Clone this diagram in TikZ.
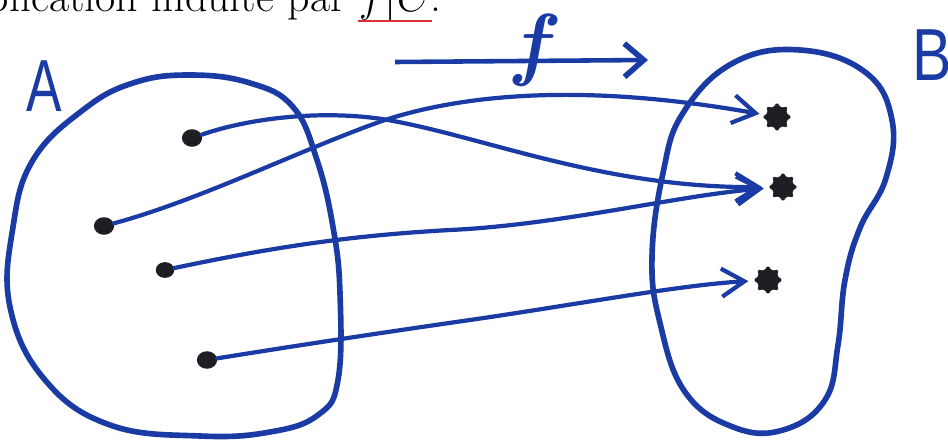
\documentclass[tikz,border=0pt]{standalone}
\usepackage{fontspec}
\usetikzlibrary{arrows.meta,shapes.geometric}
\newfontfamily\handfont{Liberation Sans}
\definecolor{ink}{HTML}{1A3BA3}
\definecolor{dotc}{HTML}{1E1E24}
\definecolor{spell}{HTML}{D9303A}
\begin{document}
\begin{tikzpicture}[x=0.02cm,y=-0.02cm,
  blob/.style={draw=ink,line width=3.2pt,line join=round},
  conn/.style={draw=ink,line width=2.4pt,line cap=round,
    -{Straight Barb[length=13pt,width=16pt,line width=2.4pt]},shorten >=3pt},
  pt/.style={ellipse,fill=dotc,minimum width=11.5pt,minimum height=10pt,inner sep=0pt},
  img/.style={star,star points=8,star point ratio=1.5,fill=dotc,minimum size=17pt,inner sep=0pt,rounded corners=1pt},
  setlabel/.style={text=ink,font=\handfont\fontsize{42}{42}\selectfont,inner sep=0pt}]

\useasboundingbox (0,0) rectangle (948,443);
\fill[white] (0,0) rectangle (948,443);

% cut-off line of text at the top
\begin{scope}
\clip (0,0) rectangle (948,443);
\node[anchor=base east,inner sep=0pt,font=\fontsize{25}{28}\selectfont] (txt) at (442,11)
  {l'application induite par $f|C$.};
\end{scope}
\draw[spell,line width=1.3pt] (358,21) -- (432,21);

% set labels
\node[setlabel] (labA) at (44,86) {\scalebox{0.72}[1]{A}};
\node[setlabel] (labB) at (932,55) {\scalebox{0.8}[1]{B}};

% map arrow f
\coordinate (fs) at (395,62);
\coordinate (fe) at (648,60);
\draw[ink,line width=2.6pt,-{Straight Barb[length=11pt,width=19pt,line width=3.2pt]}] (fs) -- (fe);
\node[text=ink,font=\fontsize{46}{46}\selectfont\bfseries\itshape,inner sep=0pt] (flab) at (531,50) {f};

% set A
\draw[blob] plot[smooth cycle,tension=0.7] coordinates {
  (190,75) (250,83) (293,107) (317,160) (333,227) (340,293) (338,380)
  (318,415) (270,432) (200,436) (110,425) (45,380) (10,307) (13,227) (33,160)
  (83,110) (133,83)};

% set B
\draw[blob] plot[smooth cycle,tension=0.7] coordinates {
  (800,50) (865,72) (892,120) (886,178) (860,228) (845,280) (838,345)
  (825,400) (783,430) (733,427) (685,392) (660,323) (652,257) (663,173)
  (683,113) (733,63)};

% elements
\node[pt] (a1) at (192,138) {};
\node[pt] (a2) at (104,226) {};
\node[pt,minimum width=10.5pt,minimum height=9pt] (a3) at (165,270) {};
\node[pt] (a4) at (207,360) {};
\node[img] (b1) at (777,117) {};
\node[img] (b2) at (783,187) {};
\node[img] (b3) at (768,280) {};

% connectors
\draw[conn] (a1) .. controls (250,118) and (320,110) .. (382,119)
  .. controls (480,135) and (600,188) .. (b2);
\draw[conn] (a2) .. controls (200,200) and (300,150) .. (382,121)
  .. controls (460,95) and (580,82) .. (b1);
\draw[conn] (a3) .. controls (260,250) and (340,236) .. (450,230)
  .. controls (560,225) and (680,195) .. (b2);
\draw[conn] (a4) .. controls (300,345) and (400,330) .. (470,320)
  .. controls (580,304) and (680,285) .. (b3);
\end{tikzpicture}
\end{document}
